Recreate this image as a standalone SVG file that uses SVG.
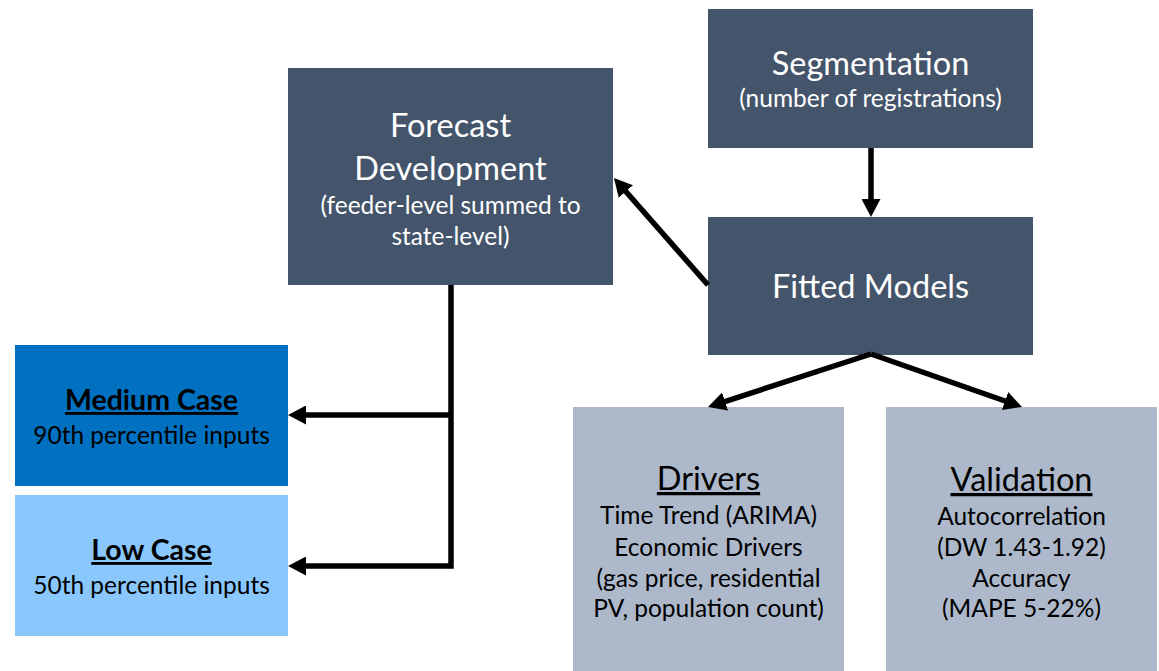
<svg xmlns="http://www.w3.org/2000/svg" width="1159" height="671" viewBox="0 0 1159 671">
<style>
text{font-family:Lato,"Open Sans",sans-serif;text-anchor:middle}
.dark{fill:#44546A}
.w{fill:#ffffff}
.k{fill:#000000}
.main{font-size:32.5px}
.sub{font-size:24.5px}
.body{font-size:24.5px}
.ttl{font-size:32.5px;text-decoration:underline}
.case{font-size:28.5px;font-weight:bold;text-decoration:underline}
.line{fill:none;stroke:#000;stroke-width:5.5;stroke-linejoin:miter}
</style>
<defs>
<marker id="ah" viewBox="0 0 18 19" refX="6" refY="9.5" markerWidth="18" markerHeight="19" markerUnits="userSpaceOnUse" orient="auto">
<path d="M0,0 L18,9.5 L0,19 Z" fill="#000"/>
</marker>
</defs>
<rect width="1159" height="671" fill="#fff"/>
<g id="forecast">
<rect class="dark" x="288" y="68" width="325" height="217"/>
<text class="w main" x="450.5" y="137">Forecast</text>
<text class="w main" x="450.5" y="180">Development</text>
<text class="w sub" x="450.5" y="214">(feeder-level summed to</text>
<text class="w sub" x="450.5" y="245">state-level)</text>
</g>
<g id="segmentation">
<rect class="dark" x="708" y="9" width="325" height="139"/>
<text class="w main" x="870.5" y="75">Segmentation</text>
<text class="w sub" x="870.5" y="107">(number of registrations)</text>
</g>
<g id="fitted">
<rect class="dark" x="708" y="217" width="325" height="138"/>
<text class="w main" x="870.5" y="298">Fitted Models</text>
</g>
<g id="medium">
<rect x="15" y="345" width="273" height="141" fill="#0070C0"/>
<text class="k case" x="151.5" y="410">Medium Case</text>
<text class="k body" x="151.5" y="444">90th percentile inputs</text>
</g>
<g id="low">
<rect x="15" y="495" width="273" height="141" fill="#89C7FC"/>
<text class="k case" x="151.5" y="560">Low Case</text>
<text class="k body" x="151.5" y="594">50th percentile inputs</text>
</g>
<g id="drivers">
<rect x="573" y="407" width="271" height="264" fill="#ADB9CA"/>
<text class="k ttl" x="708.5" y="490">Drivers</text>
<text class="k body" x="708.5" y="524">Time Trend (ARIMA)</text>
<text class="k body" x="708.5" y="556">Economic Drivers</text>
<text class="k body" x="708.5" y="587">(gas price, residential</text>
<text class="k body" x="708.5" y="617">PV, population count)</text>
</g>
<g id="validation">
<rect x="886" y="407" width="271" height="264" fill="#ADB9CA"/>
<text class="k ttl" x="1021.5" y="491">Validation</text>
<text class="k body" x="1021.5" y="525">Autocorrelation</text>
<text class="k body" x="1021.5" y="556">(DW 1.43-1.92)</text>
<text class="k body" x="1021.5" y="587">Accuracy</text>
<text class="k body" x="1021.5" y="617">(MAPE 5-22%)</text>
</g>
<g id="connectors">
<line class="line" x1="871" y1="148" x2="871" y2="205" marker-end="url(#ah)"/>
<line class="line" x1="708" y1="285" x2="621.9" y2="187" marker-end="url(#ah)"/>
<line class="line" x1="871" y1="354" x2="719.4" y2="403.3" marker-end="url(#ah)"/>
<line class="line" x1="871" y1="354" x2="1010.7" y2="403" marker-end="url(#ah)"/>
<polyline class="line" points="451,285 451,566 300,566" marker-end="url(#ah)"/>
<line class="line" x1="451" y1="415" x2="300" y2="415" marker-end="url(#ah)"/>
</g>
</svg>
